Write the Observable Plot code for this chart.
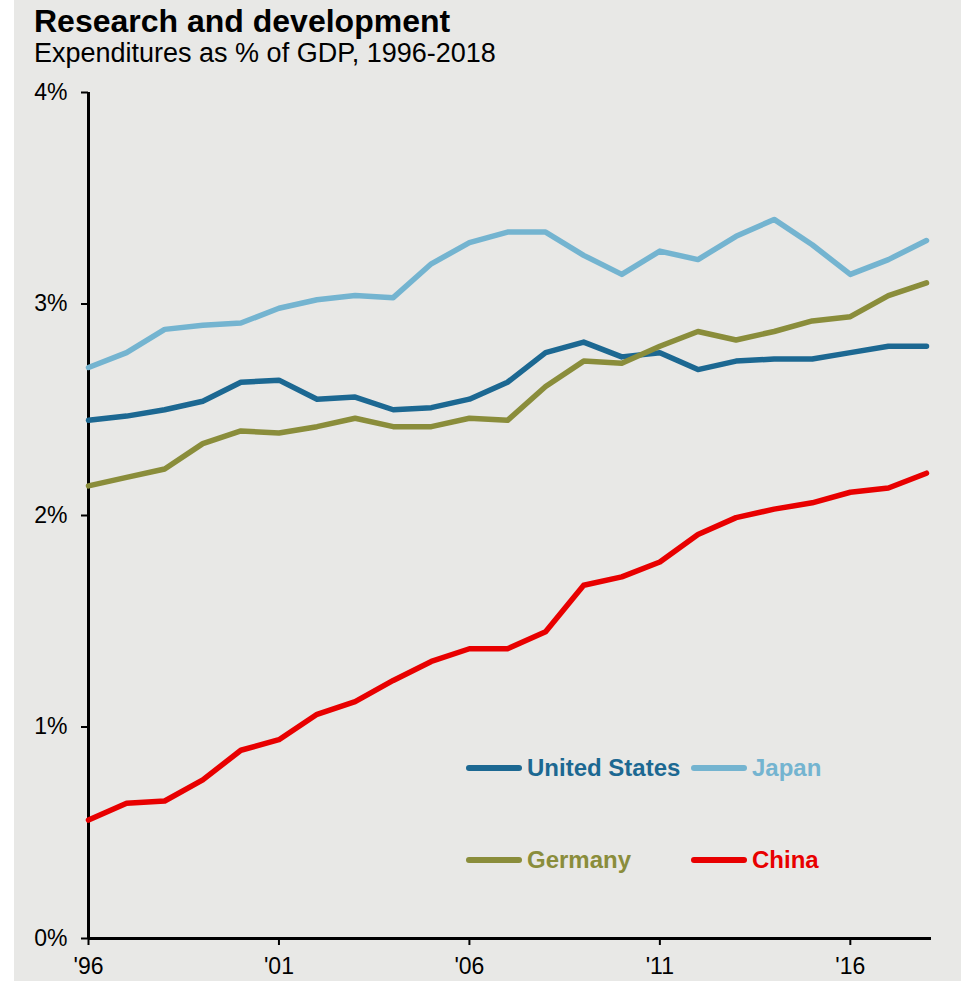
<!DOCTYPE html>
<html>
<head>
<meta charset="utf-8">
<script src="https://cdn.jsdelivr.net/npm/d3@7"></script>
<script src="https://cdn.jsdelivr.net/npm/@observablehq/plot@0.6"></script>
<style>
  html, body { margin: 0; padding: 0; }
  body {
    width: 961px; height: 981px; overflow: hidden;
    background: linear-gradient(to right, #ffffff 14px, #e8e8e6 14px);
    font-family: "Liberation Sans", Arial, sans-serif;
    position: relative;
  }
  #header { position: relative; height: 70px; }
  #title { position: absolute; left: 34px; top: 5px; font-size: 32px; line-height: 32px; font-weight: bold; color: #000; white-space: nowrap; }
  #subtitle { position: absolute; left: 34px; top: 40px; font-size: 27px; line-height: 27px; color: #000; white-space: nowrap; }
  #chart svg { display: block; }
  #chart svg text { font-size: 23px !important; font-family: "Liberation Sans", Arial, sans-serif; fill: #000; }
  #legend { position: absolute; left: 466px; top: 756px; display: grid; grid-template-columns: 225px auto; row-gap: 68px; }
  .item { display: flex; align-items: center; height: 24px; font-size: 24px; font-weight: bold; white-space: nowrap; }
  .sw { width: 56px; height: 6px; border-radius: 3px; margin-right: 5px; }
</style>
</head>
<body>
<div id="header">
  <div id="title">Research and development</div>
  <div id="subtitle">Expenditures as % of GDP, 1996-2018</div>
</div>
<div id="chart"></div>
<div id="legend"></div>
<script>
const years = [1996, 1997, 1998, 1999, 2000, 2001, 2002, 2003, 2004, 2005, 2006, 2007, 2008, 2009, 2010, 2011, 2012, 2013, 2014, 2015, 2016, 2017, 2018];
const japan   = [2.70, 2.77, 2.88, 2.90, 2.91, 2.98, 3.02, 3.04, 3.03, 3.19, 3.29, 3.34, 3.34, 3.23, 3.14, 3.25, 3.21, 3.32, 3.40, 3.28, 3.14, 3.21, 3.30];
const unitedStates = [2.45, 2.47, 2.50, 2.54, 2.63, 2.64, 2.55, 2.56, 2.50, 2.51, 2.55, 2.63, 2.77, 2.82, 2.75, 2.77, 2.69, 2.73, 2.74, 2.74, 2.77, 2.80, 2.80];
const germany = [2.14, 2.18, 2.22, 2.34, 2.40, 2.39, 2.42, 2.46, 2.42, 2.42, 2.46, 2.45, 2.61, 2.73, 2.72, 2.80, 2.87, 2.83, 2.87, 2.92, 2.94, 3.04, 3.10];
const china   = [0.56, 0.64, 0.65, 0.75, 0.89, 0.94, 1.06, 1.12, 1.22, 1.31, 1.37, 1.37, 1.45, 1.67, 1.71, 1.78, 1.91, 1.99, 2.03, 2.06, 2.11, 2.13, 2.20];

const seriesNames = ["Japan", "United States", "Germany", "China"];
const seriesValues = [japan, unitedStates, germany, china];
const seriesColors = ["#74b4d0", "#1c6892", "#8a8d3b", "#e80000"];
const legendOrder = ["United States", "Japan", "Germany", "China"];

const xTicks = [1996, 2001, 2006, 2011, 2016];
const xTickLabels = ["'96", "'01", "'06", "'11", "'16"];
const yTicks = [0, 1, 2, 3, 4];
const yTickLabels = ["0%", "1%", "2%", "3%", "4%"];

const rows = [];
seriesNames.forEach((name, i) => {
  years.forEach((yr, j) => rows.push({series: name, year: yr, value: seriesValues[i][j]}));
});

const chart = Plot.plot({
  width: 961,
  height: 911,
  marginLeft: 88,
  marginRight: 35,
  marginTop: 22,
  marginBottom: 43,
  style: {background: "transparent", fontFamily: "'Liberation Sans', Arial, sans-serif", fontSize: "23px", color: "#000", overflow: "visible"},
  x: {domain: [1996, 2018], label: null},
  y: {domain: [0, 4], label: null},
  color: {domain: seriesNames, range: seriesColors},
  marks: [
    Plot.axisX({ticks: xTicks, tickFormat: d => xTickLabels[xTicks.indexOf(d)], tickSize: 7, tickPadding: 12, strokeWidth: 2, fontSize: 23}),
    Plot.axisY({ticks: yTicks, tickFormat: d => yTickLabels[yTicks.indexOf(d)], tickSize: 7, tickPadding: 14, strokeWidth: 2, fontSize: 23}),
    Plot.ruleX([1996], {stroke: "#000", strokeWidth: 3}),
    Plot.ruleY([0], {stroke: "#000", strokeWidth: 3, insetRight: -5}),
    Plot.line(rows, {x: "year", y: "value", z: "series", stroke: "series", strokeWidth: 5.5, strokeLinecap: "round", strokeLinejoin: "round"})
  ]
});
document.getElementById("chart").appendChild(chart);

const legend = document.getElementById("legend");
legendOrder.forEach(name => {
  const c = seriesColors[seriesNames.indexOf(name)];
  const item = document.createElement("div");
  item.className = "item";
  item.style.color = c;
  const sw = document.createElement("div");
  sw.className = "sw";
  sw.style.background = c;
  item.appendChild(sw);
  item.appendChild(document.createTextNode(name));
  legend.appendChild(item);
});
</script>
</body>
</html>
